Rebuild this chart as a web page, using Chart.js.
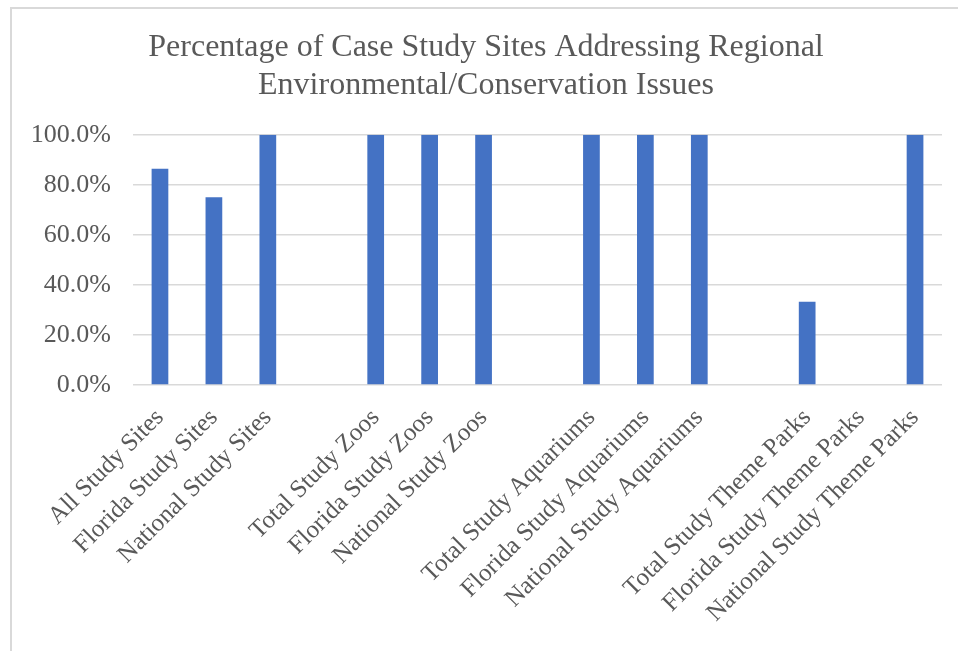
<!DOCTYPE html>
<html lang="en">
<head>
    <meta charset="UTF-8">
    <title>Regional Environmental/Conservation Issues</title>
    <script src="https://cdn.jsdelivr.net/npm/chart.js"></script>
    <style>
        body {
            margin: 0;
            background: #fff;
            overflow: hidden;
        }
        #frame {
            position: absolute;
            left: 10px;
            top: 7px;
            width: 980px;
            height: 700px;
            border-left: 2px solid #d9d9d9;
            border-top: 2px solid #d9d9d9;
        }
    </style>
</head>
<body>
    <div id="frame">
        <canvas id="sitesChart" width="956" height="642"></canvas>
    </div>

    <script>
        // Site groups (blank entries leave a gap between groups)
        const categories = [
            "All Study Sites", "Florida Study Sites", "National Study Sites", "",
            "Total Study Zoos", "Florida Study Zoos", "National Study Zoos", "",
            "Total Study Aquariums", "Florida Study Aquariums", "National Study Aquariums", "",
            "Total Study Theme Parks", "Florida Study Theme Parks", "National Study Theme Parks"
        ];
        // Percent of sites addressing regional issues
        const percentages = [
            86.4, 75.0, 100.0, null,
            100.0, 100.0, 100.0, null,
            100.0, 100.0, 100.0, null,
            33.3, 0.0, 100.0
        ];
        const yTicks = [0, 20, 40, 60, 80, 100];

        const textGray = "#595959";
        const serif = "'Liberation Serif', 'Times New Roman', serif";

        const ctx = document.getElementById("sitesChart").getContext("2d");
        new Chart(ctx, {
            type: "bar",
            data: {
                labels: categories,
                datasets: [{
                    data: percentages,
                    backgroundColor: "#4472C4",
                    barPercentage: 0.31,
                    categoryPercentage: 1.0
                }]
            },
            options: {
                responsive: false,
                animation: false,
                layout: {
                    padding: { left: 18, right: 26, top: 0, bottom: 13 }
                },
                plugins: {
                    legend: { display: false },
                    tooltip: { enabled: false },
                    title: {
                        display: true,
                        text: ["Percentage of Case Study Sites Addressing Regional",
                               "Environmental/Conservation Issues"],
                        color: textGray,
                        font: { family: serif, size: 32, weight: "normal", lineHeight: 1.2 },
                        padding: { top: 19, bottom: 30 }
                    }
                },
                scales: {
                    x: {
                        grid: { display: false },
                        border: { display: false },
                        ticks: {
                            color: textGray,
                            font: { family: serif, size: 25 },
                            maxRotation: 45,
                            minRotation: 45,
                            autoSkip: false,
                            padding: 10
                        }
                    },
                    y: {
                        min: 0,
                        max: 100,
                        afterFit: (scale) => { scale.width = 103; },
                        afterBuildTicks: (scale) => {
                            scale.ticks = yTicks.map(v => ({ value: v }));
                        },
                        grid: {
                            color: "#d9d9d9",
                            lineWidth: 1.5,
                            drawTicks: false
                        },
                        border: { display: false },
                        ticks: {
                            color: textGray,
                            font: { family: serif, size: 26 },
                            padding: 22,
                            callback: (v) => v.toFixed(1) + "%"
                        }
                    }
                }
            }
        });
    </script>
</body>
</html>
